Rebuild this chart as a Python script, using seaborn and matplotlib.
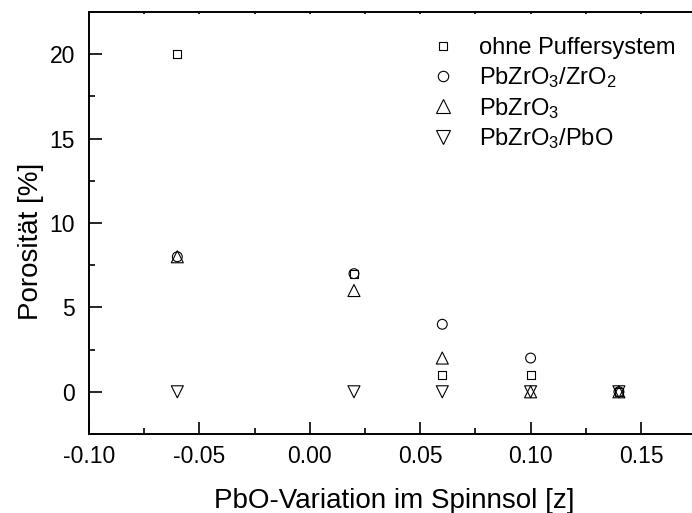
import matplotlib
matplotlib.use("Agg")
import matplotlib.pyplot as plt
from matplotlib.lines import Line2D
from matplotlib.ticker import MultipleLocator, FormatStrFormatter
import seaborn as sns
import pandas as pd

# PbO variation in the spin-coating sol and resulting porosity
z_values = [-0.06, 0.02, 0.06, 0.10, 0.14]
ohne_puffer = [20, 7, 1, 1, 0]
pbzro3_zro2 = [8, 7, 4, 2, 0]
pbzro3 = [8, 6, 2, 0, 0]
pbzro3_pbo = [0, 0, 0, 0, 0]

series_names = [
    "ohne Puffersystem",
    r"PbZrO$\mathregular{_3}$/ZrO$\mathregular{_2}$",
    r"PbZrO$\mathregular{_3}$",
    r"PbZrO$\mathregular{_3}$/PbO",
]
series_values = [ohne_puffer, pbzro3_zro2, pbzro3, pbzro3_pbo]
series_markers = ["s", "o", "^", "v"]
series_sizes = [34, 50, 75, 75]

rows = []
for name, vals in zip(series_names, series_values):
    for z, v in zip(z_values, vals):
        rows.append({"z": z, "porositaet": v, "series": name})
df = pd.DataFrame(rows)

sns.set_style("ticks")
plt.rcParams["font.family"] = ["Liberation Sans", "DejaVu Sans"]
plt.rcParams["mathtext.fontset"] = "custom"
plt.rcParams["mathtext.rm"] = "Liberation Sans"
plt.rcParams["mathtext.it"] = "Liberation Sans"
for key in ["text.color", "axes.labelcolor", "xtick.color", "ytick.color",
            "axes.edgecolor"]:
    plt.rcParams[key] = "black"

W, H = 692, 513
fig = plt.figure(figsize=(W / 100, H / 100), dpi=100)
left_px, right_px, top_px, bottom_px = 89, 700, 12, 434
ax = fig.add_axes([left_px / W, 1 - bottom_px / H,
                   (right_px - left_px) / W, (bottom_px - top_px) / H])

for name, marker, size in zip(series_names, series_markers, series_sizes):
    sub = df[df["series"] == name]
    sns.scatterplot(data=sub, x="z", y="porositaet", marker=marker, s=size,
                    facecolors="none", edgecolors="black", linewidths=0.8,
                    ax=ax, legend=False, zorder=3)

# 0.05 in z spans about 110 px; the right border sits just outside the canvas
ax.set_xlim(-0.10, -0.10 + (right_px - left_px) / 2208)
ax.set_ylim(-2.5, 22.5)
ax.xaxis.set_major_locator(MultipleLocator(0.05))
ax.xaxis.set_minor_locator(MultipleLocator(0.025))
ax.yaxis.set_major_locator(MultipleLocator(5))
ax.yaxis.set_minor_locator(MultipleLocator(2.5))
ax.xaxis.set_major_formatter(FormatStrFormatter("%.2f"))

ax.tick_params(axis="both", which="major", direction="in", length=9,
               width=1.2, labelsize=16.5)
ax.tick_params(axis="both", which="minor", direction="in", length=4.5,
               width=1.2)
ax.tick_params(axis="x", which="major", pad=8)
ax.tick_params(axis="y", which="major", pad=10)
ax.tick_params(axis="x", which="both", top=True, bottom=True)
for t in ax.xaxis.get_major_ticks() + ax.xaxis.get_minor_ticks():
    t.tick2line.set_markersize(1.5)

for sp in ax.spines.values():
    sp.set_linewidth(1.4)

ax.set_xlabel("PbO-Variation im Spinnsol [z]", fontsize=20, labelpad=14)
ax.set_ylabel("Porosität [%]", fontsize=20)
ax.yaxis.set_label_coords(-0.073, 0.456)

handles = [Line2D([], [], linestyle="none", marker=m, markersize=ms,
                  markerfacecolor="none", markeredgecolor="black",
                  markeredgewidth=0.8)
           for m, ms in zip(series_markers, [6, 7.5, 9.5, 9.5])]
ax.legend(handles, series_names, loc="upper left", frameon=False,
          fontsize=17, bbox_to_anchor=(429 / W, 1 - 37 / H),
          bbox_transform=fig.transFigure, handlelength=1.2,
          handletextpad=0.93, labelspacing=0.25, borderpad=0,
          borderaxespad=0)

fig.savefig("out.png", dpi=100)
